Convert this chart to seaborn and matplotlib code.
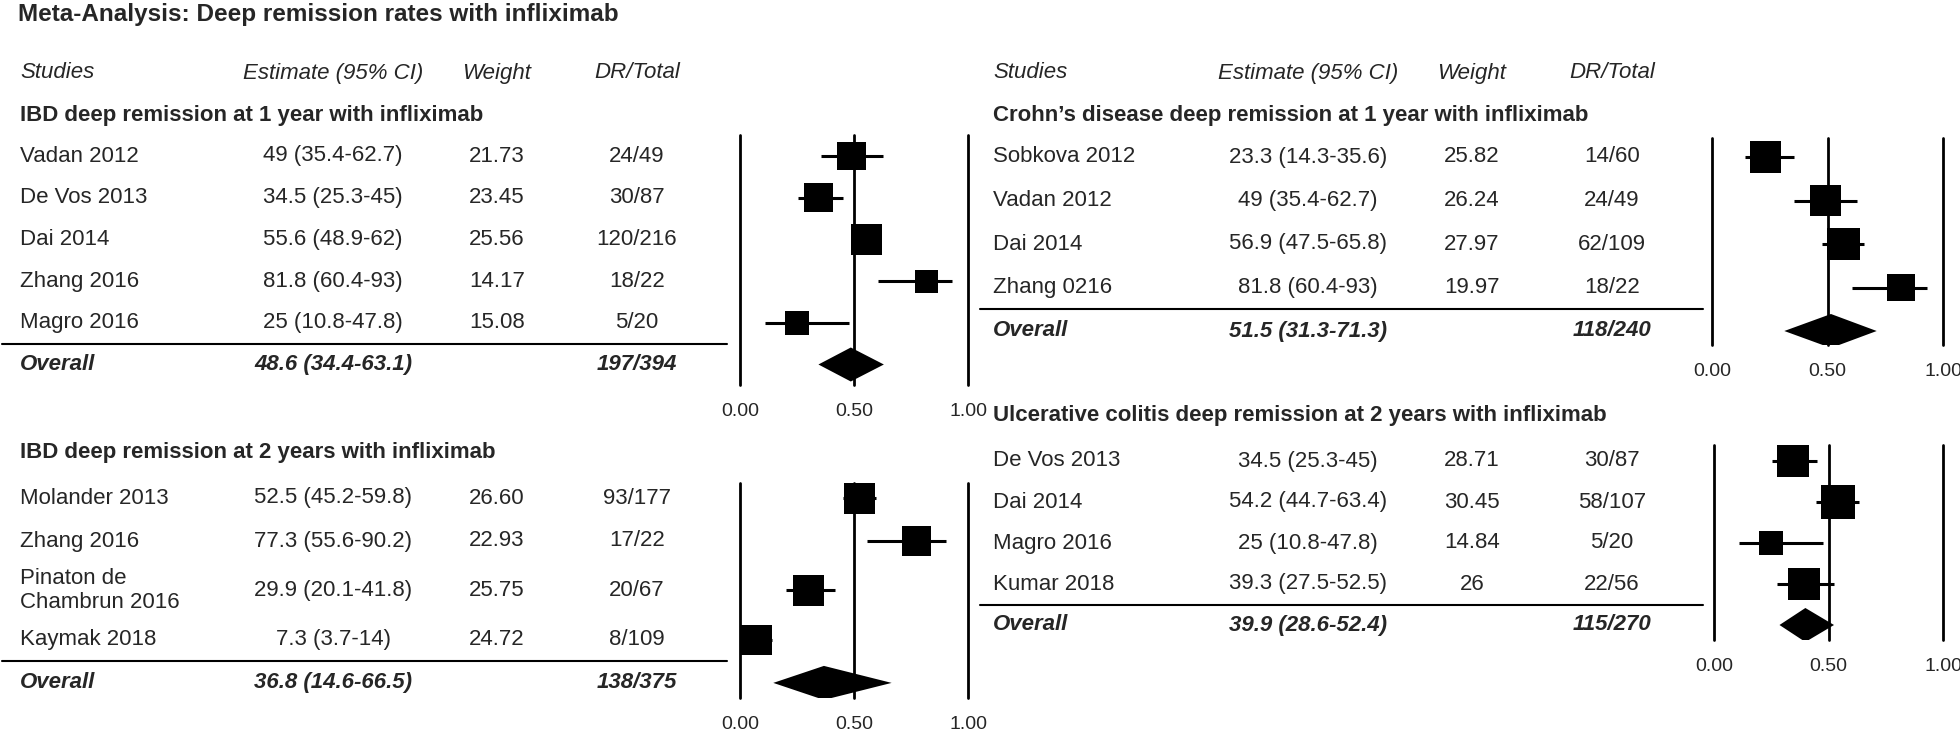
import numpy as np
import pandas as pd
import matplotlib
matplotlib.use("Agg")
import matplotlib.pyplot as plt
import seaborn as sns
from matplotlib.transforms import blended_transform_factory

# ---------------- data ----------------
title = "Meta-Analysis: Deep remission rates with infliximab"
col_headers = ["Studies", "Estimate (95% CI)", "Weight", "DR/Total"]
overall_label = "Overall"
tick_values = [0.0, 0.5, 1.0]
tick_labels = ["0.00", "0.50", "1.00"]

ibd1_title = "IBD deep remission at 1 year with infliximab"
ibd1_studies = ["Vadan 2012", "De Vos 2013", "Dai 2014", "Zhang 2016", "Magro 2016"]
ibd1_est = [49, 34.5, 55.6, 81.8, 25]
ibd1_lo = [35.4, 25.3, 48.9, 60.4, 10.8]
ibd1_hi = [62.7, 45, 62, 93, 47.8]
ibd1_weight = ["21.73", "23.45", "25.56", "14.17", "15.08"]
ibd1_dr = ["24/49", "30/87", "120/216", "18/22", "5/20"]
ibd1_overall = [48.6, 34.4, 63.1]
ibd1_overall_dr = "197/394"

ibd2_title = "IBD deep remission at 2 years with infliximab"
ibd2_studies = ["Molander 2013", "Zhang 2016", "Pinaton de\nChambrun 2016", "Kaymak 2018"]
ibd2_est = [52.5, 77.3, 29.9, 7.3]
ibd2_lo = [45.2, 55.6, 20.1, 3.7]
ibd2_hi = [59.8, 90.2, 41.8, 14]
ibd2_weight = ["26.60", "22.93", "25.75", "24.72"]
ibd2_dr = ["93/177", "17/22", "20/67", "8/109"]
ibd2_overall = [36.8, 14.6, 66.5]
ibd2_overall_dr = "138/375"

cd1_title = "Crohn\u2019s disease deep remission at 1 year with infliximab"
cd1_studies = ["Sobkova 2012", "Vadan 2012", "Dai 2014", "Zhang 0216"]
cd1_est = [23.3, 49, 56.9, 81.8]
cd1_lo = [14.3, 35.4, 47.5, 60.4]
cd1_hi = [35.6, 62.7, 65.8, 93]
cd1_weight = ["25.82", "26.24", "27.97", "19.97"]
cd1_dr = ["14/60", "24/49", "62/109", "18/22"]
cd1_overall = [51.5, 31.3, 71.3]
cd1_overall_dr = "118/240"

uc2_title = "Ulcerative colitis deep remission at 2 years with infliximab"
uc2_studies = ["De Vos 2013", "Dai 2014", "Magro 2016", "Kumar 2018"]
uc2_est = [34.5, 54.2, 25, 39.3]
uc2_lo = [25.3, 44.7, 10.8, 27.5]
uc2_hi = [45, 63.4, 47.8, 52.5]
uc2_weight = ["28.71", "30.45", "14.84", "26"]
uc2_dr = ["30/87", "58/107", "5/20", "22/56"]
uc2_overall = [39.9, 28.6, 52.4]
uc2_overall_dr = "115/270"

# ---------------- style / layout ----------------
sns.set_style("white")
plt.rcParams["font.family"] = ["Liberation Sans", "DejaVu Sans"]

W, H = 1960, 739
fig = plt.figure(figsize=(W / 100, H / 100), dpi=100)
fig.patch.set_facecolor("white")

FS = 16
K_AREA = 19.3  # marker area (pt^2) per weight unit


def fx(px):
    return px / W


def fy(py):
    return 1 - py / H


left_cols = (20, 333, 497, 637)
right_cols = (993, 1308, 1472, 1612)

panels = [
    (dict(title=ibd1_title, studies=ibd1_studies, est=ibd1_est, lo=ibd1_lo, hi=ibd1_hi,
          weight=ibd1_weight, dr=ibd1_dr, overall=ibd1_overall, overall_dr=ibd1_overall_dr),
     dict(x0=740, x1=968, y0=135, y1=385, row0=156, pitch=41.7, cols=left_cols,
          line=(2, 727), sec_y=115, head_y=73)),
    (dict(title=ibd2_title, studies=ibd2_studies, est=ibd2_est, lo=ibd2_lo, hi=ibd2_hi,
          weight=ibd2_weight, dr=ibd2_dr, overall=ibd2_overall, overall_dr=ibd2_overall_dr),
     dict(x0=740, x1=968, y0=483, y1=698, row0=498, pitch=43, cols=left_cols,
          line=(2, 727), sec_y=452, head_y=None)),
    (dict(title=cd1_title, studies=cd1_studies, est=cd1_est, lo=cd1_lo, hi=cd1_hi,
          weight=cd1_weight, dr=cd1_dr, overall=cd1_overall, overall_dr=cd1_overall_dr),
     dict(x0=1712, x1=1943, y0=138, y1=345, row0=157, pitch=43.5, cols=right_cols,
          line=(980, 1703), sec_y=116, head_y=73)),
    (dict(title=uc2_title, studies=uc2_studies, est=uc2_est, lo=uc2_lo, hi=uc2_hi,
          weight=uc2_weight, dr=uc2_dr, overall=uc2_overall, overall_dr=uc2_overall_dr),
     dict(x0=1714, x1=1943, y0=445, y1=640, row0=461, pitch=41, cols=right_cols,
          line=(980, 1703), sec_y=415, head_y=None)),
]

fig.text(fx(18), fy(15), title, ha="left", va="center", fontsize=17.5, fontweight="bold")


def draw_panel(d, L):
    ax = fig.add_axes([fx(L["x0"]), fy(L["y1"]),
                       (L["x1"] - L["x0"]) / W, (L["y1"] - L["y0"]) / H])
    n = len(d["studies"])
    nlines = [s.count("\n") + 1 for s in d["studies"]] + [1]
    units = [1 + 0.3 * (k - 1) for k in nlines]
    pos = [0.0]
    for i in range(1, len(units)):
        pos.append(pos[-1] + (units[i - 1] + units[i]) / 2)
    pos = np.array(pos)
    ys, yo = pos[:n], pos[n]

    df = pd.DataFrame({
        "est": np.array(d["est"]) / 100,
        "lo": np.array(d["lo"]) / 100,
        "hi": np.array(d["hi"]) / 100,
        "w": [float(w) for w in d["weight"]],
        "y": ys,
    })

    for xv in tick_values:
        ax.axvline(xv, color="black", lw=2, clip_on=False, zorder=2)
    ax.hlines(df["y"], df["lo"], df["hi"], color="black", lw=2.2, zorder=3)
    wmin, wmax = df["w"].min(), df["w"].max()
    sns.scatterplot(data=df, x="est", y="y", size="w",
                    sizes=(K_AREA * wmin, K_AREA * wmax), size_norm=(wmin, wmax),
                    marker="s", color="black", linewidth=0, legend=False,
                    ax=ax, zorder=4)
    oe, ol, oh = np.array(d["overall"]) / 100
    hh = 17 / L["pitch"]
    ax.fill([ol, oe, oh, oe], [yo, yo - hh, yo, yo + hh], color="black", lw=0, zorder=4)

    ax.set_xlim(0, 1)
    ax.set_ylim((L["y1"] - L["row0"]) / L["pitch"], (L["y0"] - L["row0"]) / L["pitch"])
    ax.set_xticks(tick_values, tick_labels)
    ax.set_yticks([])
    ax.set_xlabel("")
    ax.set_ylabel("")
    ax.tick_params(axis="x", length=0, pad=13, labelsize=14)
    sns.despine(ax=ax, left=True, bottom=True)
    ax.set_facecolor("none")

    tr = blended_transform_factory(fig.transFigure, ax.transData)
    c = L["cols"]
    for i in range(n):
        lab = f"{d['est'][i]:g} ({d['lo'][i]:g}-{d['hi'][i]:g})"
        ax.text(fx(c[0]), ys[i], d["studies"][i], transform=tr, ha="left", va="center",
                fontsize=FS, linespacing=1.15)
        ax.text(fx(c[1]), ys[i], lab, transform=tr, ha="center", va="center", fontsize=FS)
        ax.text(fx(c[2]), ys[i], d["weight"][i], transform=tr, ha="center", va="center", fontsize=FS)
        ax.text(fx(c[3]), ys[i], d["dr"][i], transform=tr, ha="center", va="center", fontsize=FS)
    o = d["overall"]
    olab = f"{o[0]:g} ({o[1]:g}-{o[2]:g})"
    bi = dict(transform=tr, va="center", fontsize=FS, fontweight="bold", fontstyle="italic")
    ax.text(fx(c[0]), yo, overall_label, ha="left", **bi)
    ax.text(fx(c[1]), yo, olab, ha="center", **bi)
    ax.text(fx(c[3]), yo, d["overall_dr"], ha="center", **bi)

    sep = (ys[-1] + yo) / 2
    ax.plot([fx(L["line"][0]), fx(L["line"][1])], [sep, sep], transform=tr,
            color="black", lw=1.5, clip_on=False)

    fig.text(fx(c[0]), fy(L["sec_y"]), d["title"], ha="left", va="center",
             fontsize=16, fontweight="bold")
    if L["head_y"] is not None:
        for j, h in enumerate(col_headers):
            fig.text(fx(c[j]), fy(L["head_y"]), h, ha="left" if j == 0 else "center",
                     va="center", fontsize=FS, fontstyle="italic")


for d, L in panels:
    draw_panel(d, L)

fig.savefig("out.png", dpi=100, facecolor="white")
